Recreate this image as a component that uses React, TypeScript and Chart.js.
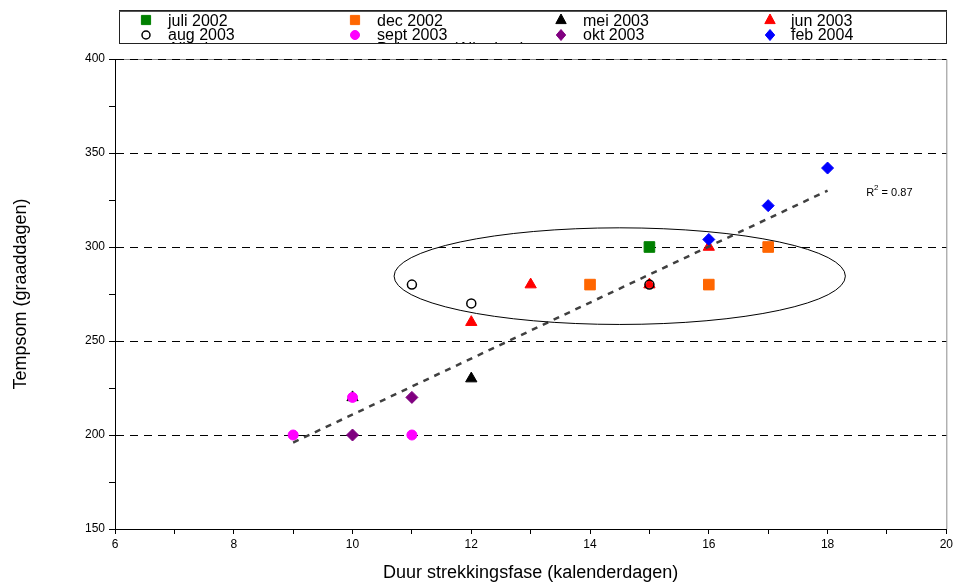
import React, { useEffect, useRef } from 'react';
import { Chart, registerables } from 'chart.js';

Chart.register(...registerables);

// ---------- data ----------
const seriesLabels = ['juli 2002', 'dec 2002', 'mei 2003', 'jun 2003', 'aug 2003', 'sept 2003', 'okt 2003', 'feb 2004'];

const juli2002X = [15];
const juli2002Y = [300];
const dec2002X = [14, 16, 17];
const dec2002Y = [280, 280, 300];
const mei2003X = [10, 12];
const mei2003Y = [220, 230];
const jun2003X = [12, 13, 15, 16];
const jun2003Y = [260, 280, 280, 300];
const aug2003X = [11, 12, 15];
const aug2003Y = [280, 270, 280];
const sept2003X = [9, 10, 11];
const sept2003Y = [200, 220, 200];
const okt2003X = [10, 11];
const okt2003Y = [200, 220];
const feb2004X = [16, 17, 18];
const feb2004Y = [304, 322, 342];

const trendX = [9, 18];
const trendY = [196, 330];

const extraLegendLabels = ['Alle data', 'Polynoom (Alle data)'];
const r2Text = 'R';
const r2Sup = '2';
const r2Value = ' = 0.87';
const r2Pos = [18.65, 329];

// ellipse: center x, center y, radius x, radius y (data units)
const ellipseCenter = [14.5, 284.5];
const ellipseRadii = [3.8, 25.7];

const xTitle = 'Duur strekkingsfase (kalenderdagen)';
const yTitle = 'Tempsom (graaddagen)';

// ---------- styles ----------
const seriesXs = [juli2002X, dec2002X, mei2003X, jun2003X, aug2003X, sept2003X, okt2003X, feb2004X];
const seriesYs = [juli2002Y, dec2002Y, mei2003Y, jun2003Y, aug2003Y, sept2003Y, okt2003Y, feb2004Y];
const seriesStyles = [
  { fill: '#008000', stroke: '#008000', shape: 'rect', r: 7.5, lr: 6.5 },
  { fill: '#FF6600', stroke: '#FF6600', shape: 'rect', r: 7.5, lr: 6.5 },
  { fill: '#000000', stroke: '#000000', shape: 'triangle', r: 6.5, lr: 6 },
  { fill: '#FF0000', stroke: '#FF0000', shape: 'triangle', r: 6.5, lr: 6 },
  { fill: 'rgba(0,0,0,0)', stroke: '#000000', shape: 'circle', r: 4.5, lr: 4 },
  { fill: '#FF00FF', stroke: '#FF00FF', shape: 'circle', r: 5, lr: 4.5 },
  { fill: '#800080', stroke: '#800080', shape: 'rectRot', r: 6, lr: 5.5 },
  { fill: '#0000FF', stroke: '#0000FF', shape: 'rectRot', r: 6, lr: 5.5 },
];

const FONT = "'Liberation Sans', Arial, Helvetica, sans-serif";

const backgroundPlugin = {
  id: 'bgFrame',
  beforeDraw(chart: any) {
    const { ctx, chartArea } = chart;
    ctx.save();
    ctx.fillStyle = '#fff';
    ctx.fillRect(0, 0, chart.width, chart.height);
    ctx.strokeStyle = '#8c8c8c';
    ctx.lineWidth = 1;
    ctx.beginPath();
    ctx.moveTo(chartArea.left, Math.round(chartArea.top) + 0.5);
    ctx.lineTo(chartArea.right + 0.5, Math.round(chartArea.top) + 0.5);
    ctx.lineTo(chartArea.right + 0.5, chartArea.bottom);
    ctx.stroke();
    ctx.restore();
  },
};

const annotationPlugin = {
  id: 'annot',
  afterDatasetsDraw(chart: any) {
    const { ctx } = chart;
    const xs = chart.scales.x;
    const ys = chart.scales.y;
    // ellipse
    const cx = xs.getPixelForValue(ellipseCenter[0]);
    const cy = ys.getPixelForValue(ellipseCenter[1]);
    const rx = Math.abs(xs.getPixelForValue(ellipseCenter[0] + ellipseRadii[0]) - cx);
    const ry = Math.abs(ys.getPixelForValue(ellipseCenter[1] + ellipseRadii[1]) - cy);
    ctx.save();
    ctx.strokeStyle = '#000';
    ctx.lineWidth = 1;
    ctx.beginPath();
    ctx.ellipse(cx, cy, rx, ry, 0, 0, Math.PI * 2);
    ctx.stroke();
    // R² label
    const tx = xs.getPixelForValue(r2Pos[0]);
    const ty = ys.getPixelForValue(r2Pos[1]);
    ctx.fillStyle = '#000';
    ctx.textBaseline = 'middle';
    ctx.textAlign = 'left';
    ctx.font = `11px ${FONT}`;
    ctx.fillText(r2Text, tx, ty);
    const w1 = ctx.measureText(r2Text).width;
    ctx.font = `8px ${FONT}`;
    ctx.fillText(r2Sup, tx + w1, ty - 5);
    const w2 = ctx.measureText(r2Sup).width;
    ctx.font = `11px ${FONT}`;
    ctx.fillText(r2Value, tx + w1 + w2, ty);
    ctx.restore();
  },
};

function drawMarker(ctx: CanvasRenderingContext2D, shape: string, x: number, y: number, r: number, fill: string) {
  ctx.beginPath();
  if (shape === 'rect') {
    const s = r * Math.SQRT1_2;
    ctx.rect(x - s, y - s, 2 * s, 2 * s);
  } else if (shape === 'rectRot') {
    ctx.moveTo(x, y - r);
    ctx.lineTo(x + r * 0.85, y);
    ctx.lineTo(x, y + r);
    ctx.lineTo(x - r * 0.85, y);
    ctx.closePath();
  } else if (shape === 'triangle') {
    ctx.moveTo(x, y - r);
    ctx.lineTo(x + r * 0.866, y + r * 0.6);
    ctx.lineTo(x - r * 0.866, y + r * 0.6);
    ctx.closePath();
  } else {
    ctx.arc(x, y, r, 0, Math.PI * 2);
  }
  if (fill !== 'rgba(0,0,0,0)') ctx.fill();
  ctx.stroke();
}

const legendPlugin = {
  id: 'customLegend',
  afterDraw(chart: any) {
    const { ctx } = chart;
    const box = { x: 119.5, y: 10.5, w: 827, h: 33 };
    const markerX = [146, 355, 561, 770];
    const textX = [168, 377, 583, 791];
    const markerY = [20, 35];
    const baseY = [25.5, 39.5, 53.5];
    ctx.save();
    ctx.fillStyle = '#fff';
    ctx.fillRect(box.x, box.y, box.w, box.h);
    ctx.beginPath();
    ctx.rect(box.x, box.y, box.w, box.h);
    ctx.clip();
    ctx.font = `16px ${FONT}`;
    ctx.textBaseline = 'alphabetic';
    ctx.textAlign = 'left';
    seriesLabels.forEach((label, i) => {
      const col = i % 4;
      const row = Math.floor(i / 4);
      const st = seriesStyles[i];
      ctx.save();
      ctx.fillStyle = st.fill;
      ctx.strokeStyle = st.stroke;
      ctx.lineWidth = st.shape === 'circle' && st.fill === 'rgba(0,0,0,0)' ? 1.5 : 1;
      drawMarker(ctx, st.shape, markerX[col], markerY[row], st.lr, st.fill);
      ctx.restore();
      ctx.fillStyle = '#000';
      ctx.fillText(label, textX[col], baseY[row]);
    });
    ctx.fillStyle = '#000';
    extraLegendLabels.forEach((label, i) => {
      ctx.fillText(label, textX[i], baseY[2]);
    });
    ctx.restore();
    ctx.save();
    ctx.strokeStyle = '#222';
    ctx.lineWidth = 1;
    ctx.strokeRect(box.x, box.y, box.w, box.h);
    ctx.strokeStyle = '#555';
    ctx.beginPath();
    ctx.moveTo(box.x, box.y + 1);
    ctx.lineTo(box.x + box.w, box.y + 1);
    ctx.stroke();
    ctx.restore();
  },
};

export default function App() {
  const canvasRef = useRef<HTMLCanvasElement | null>(null);

  useEffect(() => {
    if (!canvasRef.current) return;
    document.body.style.margin = '0';
    Chart.defaults.font.family = FONT;
    Chart.defaults.color = '#000';

    const scatterSets = seriesLabels.map((label, i) => {
      const st = seriesStyles[i];
      return {
        type: 'scatter' as const,
        label,
        data: seriesXs[i].map((x, j) => ({ x, y: seriesYs[i][j] })),
        pointStyle: st.shape,
        pointRadius: st.r,
        pointHoverRadius: st.r,
        pointBackgroundColor: st.fill,
        pointBorderColor: st.stroke,
        pointBorderWidth: st.shape === 'circle' && st.fill === 'rgba(0,0,0,0)' ? 1.5 : 1,
        showLine: false,
        order: 20 - i,
      };
    });

    const trendSet = {
      type: 'scatter' as const,
      label: 'Polynoom (Alle data)',
      data: trendX.map((x, j) => ({ x, y: trendY[j] })),
      showLine: true,
      borderColor: '#404040',
      borderWidth: 2.5,
      borderDash: [6, 6],
      pointRadius: 0,
      fill: false,
      order: 0,
    };

    const chart = new Chart(canvasRef.current, {
      type: 'scatter',
      data: { datasets: [...scatterSets, trendSet] as any },
      options: {
        animation: false,
        responsive: false,
        devicePixelRatio: 1,
        layout: { padding: { left: 0, top: 59, right: 9, bottom: 0 } },
        plugins: {
          legend: { display: false },
          tooltip: { enabled: false },
        },
        scales: {
          x: {
            type: 'linear',
            min: 6,
            max: 20,
            afterFit: (scale: any) => {
              scale.height = 55;
            },
            ticks: {
              stepSize: 1,
              autoSkip: false,
              maxRotation: 0,
              padding: 3,
              font: { size: 12 },
              color: '#000',
              callback: (v: any) => (Number(v) % 2 === 0 ? String(v) : ''),
            },
            grid: {
              drawOnChartArea: false,
              drawTicks: true,
              tickLength: 5,
              tickColor: '#000',
            },
            border: { display: true, color: '#000', width: 1 },
            title: {
              display: true,
              text: xTitle,
              font: { size: 18 },
              color: '#000',
              padding: { top: 0, bottom: 0 },
            },
          },
          y: {
            type: 'linear',
            min: 150,
            max: 400,
            afterFit: (scale: any) => {
              scale.width = 115;
            },
            ticks: {
              stepSize: 25,
              autoSkip: false,
              padding: 4,
              font: { size: 12 },
              color: '#000',
              callback: (v: any) => (Number(v) % 50 === 0 ? String(v) : ''),
            },
            grid: {
              drawOnChartArea: true,
              drawTicks: true,
              tickLength: 6,
              tickColor: '#000',
              lineWidth: 1,
              color: (ctx: any) =>
                ctx.tick && ctx.tick.value % 50 === 0 && ctx.tick.value > 150 ? '#000' : 'rgba(0,0,0,0)',
            },
            border: { display: true, color: '#000', width: 1, dash: [8, 6] },
            title: {
              display: true,
              text: yTitle,
              font: { size: 18 },
              color: '#000',
              padding: { top: 10, bottom: 0 },
            },
          },
        },
      },
      plugins: [backgroundPlugin, annotationPlugin, legendPlugin],
    });

    return () => {
      chart.destroy();
    };
  }, []);

  return (
    <div style={{ position: 'absolute', left: 0, top: 0, width: 956, height: 584 }}>
      <canvas ref={canvasRef} width={956} height={584} style={{ display: 'block' }} />
    </div>
  );
}
